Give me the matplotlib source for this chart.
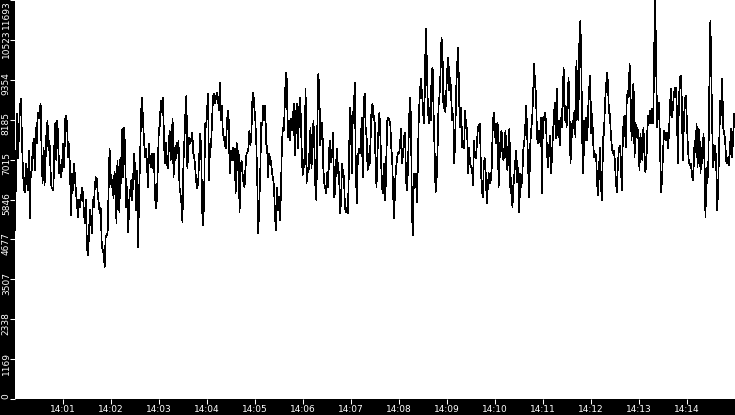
import pandas as pd
import matplotlib
matplotlib.use("Agg")
import matplotlib.pyplot as plt
import matplotlib.dates as mdates
import matplotlib.transforms as mtransforms

# values, one chunk per ~2 minutes
seg_a = [4948, 6643, 8368, 7053, 7725, 8543, 8806, 7666, 6702, 6176, 6059, 6906, 6497, 6117, 7287, 5299,
         6614, 6702, 7345, 7637, 6702, 7958, 7491, 8398, 8222, 8456, 8660, 7199, 6322, 7374, 6264, 6994,
         7871, 8163, 7287, 7579, 6760, 6205, 6176, 6117, 7491, 8105, 6994, 8163, 7374, 6614, 6848, 6497,
         6994, 7491, 6789, 8222, 8310, 7958, 7082, 7491, 6497, 5387, 6614, 6117, 6906, 6410, 6059, 5679,
         5328, 5825, 5620, 5912, 6176, 6029, 5445, 5152, 5825, 4451, 4218, 4743, 5533, 5328, 4860, 5825,
         5620, 6205, 6497, 6468, 6029, 5737, 5445, 5591, 4598, 4306, 4364, 3866, 4743, 4802]
seg_b = [4860, 6117, 7345, 6614, 6205, 6410, 5883, 6644, 6497, 5152, 6994, 6205, 5475, 7082, 6322, 7929,
         6497, 7958, 6906, 5620, 6205, 4890, 5825, 6117, 6410, 5825, 6497, 7199, 6644, 5533, 6702, 4451,
         6029, 7053, 8398, 8835, 8105, 7579, 7082, 7345, 6906, 6205, 7491, 6994, 6789, 7199, 6760, 7199,
         6029, 5591, 5825, 6789, 7871, 8017, 8748, 8398, 8835, 7958, 6906, 7521, 6994, 6760, 7287, 7871,
         6994, 7521, 8222, 6497, 7374, 6994, 7521, 7199, 7579, 6205, 6029, 5737, 5182, 6906, 7579, 8368,
         8894, 6760, 7374, 7666, 7491, 7637, 7813, 7199, 7082, 6760, 6352]
seg_c = [6176, 6352, 7082, 7783, 7374, 5533, 5094, 5825, 8075, 7958, 8456, 8952, 6410, 7491, 7374, 8105,
         8835, 8952, 8660, 8806, 8982, 8835, 8456, 9275, 8163, 8602, 7783, 7666, 7491, 7345, 7958, 8456,
         8163, 6614, 7287, 6994, 7374, 6994, 7345, 6029, 7521, 6702, 7287, 5475, 6614, 6994, 6614, 6322,
         6205, 6760, 7199, 7229, 7345, 7871, 7433, 7783, 8748, 8982, 8543, 8163, 7491, 6322, 4860, 5737,
         6614, 8105, 8017, 8602, 8163, 8602, 7491, 7374, 6497, 7199, 7053, 6936, 6614, 6468, 6205, 5328,
         4948, 6176, 5533, 5912, 5240, 6029, 7491, 7958, 7871, 8748, 9567]
seg_d = [9333, 7666, 8163, 7579, 8222, 7871, 8075, 8660, 7141, 8105, 8660, 7345, 7958, 8835, 8398, 7374,
         6556, 6994, 6789, 9099, 6322, 6760, 6644, 7287, 7958, 6760, 7374, 8163, 7287, 6176, 5825, 8075,
         9537, 8982, 7433, 7929, 8105, 6789, 6322, 6176, 6029, 6644, 6205, 7345, 7579, 6936, 7199, 7813,
         5912, 6059, 6906, 7345, 6614, 6644, 5445, 5767, 6906, 6644, 6497, 5620, 5475, 5591, 5445, 6760,
         8543, 8251, 6614, 8398, 8456, 9275, 6789, 5737, 6994, 7345, 7199, 7374, 8251, 6497, 8660, 8952,
         7958, 7666, 6702, 7199, 6848, 7579, 8543, 8660, 8163, 8310, 6994, 6205]
seg_e = [7199, 7871, 8398, 7666, 6702, 6117, 6029, 6906, 5825, 7082, 8163, 8251, 8163, 8075, 7374, 6994,
         5912, 5299, 6410, 6789, 7082, 7229, 7199, 7491, 7929, 6906, 7199, 7666, 7813, 6410, 6117, 6789,
         8075, 8835, 8251, 5445, 4802, 6614, 6322, 6614, 5767, 6848, 8368, 8894, 9391, 9040, 8660, 8075,
         8894, 10852, 10005, 8748, 8075, 8543, 8163, 9625, 9712, 8368, 7287, 6059, 6410, 7287, 8602, 8894,
         9537, 10589, 10210, 8514, 8894, 8398, 9099, 9712, 10005, 9040, 9420, 8748, 8163, 8368, 6906, 7783,
         9128, 9859, 10297, 8660, 7958, 8543, 7374, 7374, 7345, 8456, 7958]
seg_f = [7929, 6614, 7374, 6906, 6789, 6760, 6264, 7579, 7082, 7053, 7491, 7958, 8017, 8075, 6789, 6117,
         5912, 6906, 7053, 6556, 5737, 6205, 6614, 6322, 6410, 6789, 7929, 8398, 8075, 7491, 7958, 8105,
         6205, 7053, 7666, 7871, 7082, 6994, 7433, 7871, 6936, 6702, 7491, 7929, 6029, 6468, 5620, 6205,
         6614, 6994, 7287, 6352, 6789, 5475, 6614, 6205, 6497, 7287, 7521, 7958, 8602, 7783, 6789, 5912,
         7374, 7871, 8163, 8894, 9829, 9245, 8894, 7666, 7491, 7871, 7521, 8251, 6029, 8251, 8163, 8398,
         8163, 7345, 6789, 7199, 7725, 6614, 6994, 7666, 8222, 8690, 7637]
seg_g = [9099, 7725, 8163, 7433, 8251, 7958, 8748, 9712, 8163, 8602, 7958, 8748, 9420, 8310, 6906, 7579,
         8163, 7929, 8456, 7666, 9917, 8748, 8163, 10502, 11086, 9712, 7491, 6614, 8163, 7579, 8251, 7579,
         8543, 9099, 9479, 7783, 8368, 7491, 7082, 7199, 7141, 6322, 5971, 6789, 7374, 6205, 5825, 7637,
         7783, 8660, 9128, 9567, 9275, 8368, 8368, 7725, 7374, 7199, 7287, 6994, 6410, 6059, 6789, 7287,
         7433, 7082, 6117, 7491, 8251, 8310, 7374, 8660, 9040, 8835, 9829, 8748, 7579, 9099, 9245, 7082,
         8105, 7666, 7958, 7579, 6702, 7783, 7229, 6994, 7958, 7287, 6644]
seg_h = [6906, 7871, 8310, 8075, 8456, 8075, 8514, 8075, 10297, 11690, 9712, 7958, 8456, 8690, 7199, 6059,
         6468, 7287, 7871, 7783, 7579, 7813, 7345, 7783, 8602, 9099, 8251, 8543, 8952, 9099, 9128, 8456,
         6906, 8660, 9391, 9479, 8748, 6994, 7958, 8748, 8894, 8251, 7491, 6994, 6848, 6906, 6702, 6410,
         6789, 7579, 7229, 8075, 6789, 7929, 7666, 6614, 7374, 6906, 7783, 7082, 5328, 6789, 6322, 6994,
         9245, 11086, 9420, 7783, 6789, 7374, 7433, 6789, 5533, 6322, 7579, 8748, 8310, 9391, 7958, 7783,
         7579, 6994, 6906, 7082, 6848, 7374, 7929, 7082, 7579, 8368, 7958]

values = seg_a + seg_b + seg_c + seg_d + seg_e + seg_f + seg_g + seg_h

t_start = pd.Timestamp("2024-01-01 14:00:00")
t_end = pd.Timestamp("2024-01-01 14:15:00")
times = pd.date_range(t_start, t_end, periods=len(values))

y_max = 11693
y_ticks = [0, 1169, 2338, 3507, 4677, 5846, 7015, 8185, 9354, 10523, 11693]
x_ticks = pd.date_range("2024-01-01 14:01", "2024-01-01 14:14", freq="1min")
x_labels = [t.strftime("%H:%M") for t in x_ticks]

fig = plt.figure(figsize=(7.35, 4.15), dpi=100, facecolor="black")
ax = fig.add_axes([15 / 735, 16 / 415, 720 / 735, 399 / 415])
ax.set_facecolor("white")

ax.plot(mdates.date2num(times.to_pydatetime()), values, color="black",
        linewidth=0.5, antialiased=False)

ax.set_xlim(mdates.date2num(t_start.to_pydatetime()), mdates.date2num(t_end.to_pydatetime()))
ax.set_ylim(0, y_max)
ax.set_xticks(mdates.date2num(x_ticks.to_pydatetime()))
ax.set_xticklabels(x_labels)
ax.set_yticks(y_ticks)
ax.set_yticklabels([str(v) for v in y_ticks], rotation=90, va="center")

for s in ax.spines.values():
    s.set_visible(False)
ax.tick_params(colors="white", labelcolor="white", length=3.6, width=0.75, labelsize=6.5)
ax.tick_params(axis="x", pad=1)
ax.tick_params(axis="y", pad=-0.6)

# y labels sit a little below their ticks, end labels kept inside the figure
shift = mtransforms.ScaledTranslation(0, -4 / 100, fig.dpi_scale_trans)
ylabels = ax.get_yticklabels()
for lab in ylabels[1:-1]:
    lab.set_transform(lab.get_transform() + shift)
ylabels[0].set_va("bottom")
ylabels[-1].set_va("top")

fig.savefig("out.png", dpi=100, facecolor="black")
